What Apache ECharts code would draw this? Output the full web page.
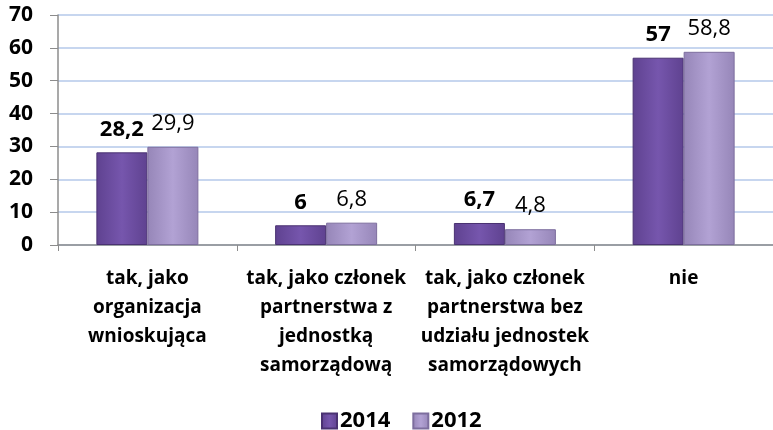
<!DOCTYPE html>
<html>
<head>
<meta charset="utf-8">
<script src="https://cdn.jsdelivr.net/npm/echarts@6/dist/echarts.min.js"></script>
<style>
  html, body { margin: 0; padding: 0; background: #fff; }
  #chart { width: 773px; height: 430px; }
</style>
</head>
<body>
<div id="chart"></div>
<script>
// dane
var categories = [
  'tak, jako\norganizacja\nwnioskująca',
  'tak, jako członek\npartnerstwa z\njednostką\nsamorządową',
  'tak, jako członek\npartnerstwa bez\nudziału jednostek\nsamorządowych',
  'nie'
];
var values2014 = [28.2, 6, 6.7, 57];
var values2012 = [29.9, 6.8, 4.8, 58.8];

var FONT = '"Open Sans", "Noto Sans", sans-serif';

function fmt(p) {
  return String(p.value).replace('.', ',');
}

function grad(c1, c2) {
  return new echarts.graphic.LinearGradient(0, 0, 1, 0, [
    { offset: 0, color: c1 },
    { offset: 0.5, color: c2 },
    { offset: 1, color: c1 }
  ]);
}

var chart = echarts.init(document.getElementById('chart'));
chart.setOption({
  animation: false,
  textStyle: { fontFamily: FONT },
  grid: { left: 58, top: 15, width: 718, bottom: 185 },
  legend: {
    top: 405,
    left: 316,
    itemWidth: 15,
    itemHeight: 15,
    itemGap: 22,
    icon: 'rect',
    textStyle: { fontFamily: FONT, fontWeight: 'bold', fontSize: 22, color: '#000', padding: [0, 0, 0, -2] },
    data: ['2014', '2012']
  },
  xAxis: {
    type: 'category',
    data: categories,
    axisLine: { lineStyle: { color: '#8c8c8c', width: 1.5 } },
    axisTick: { show: true, length: 6, lineStyle: { color: '#8c8c8c' } },
    axisLabel: {
      fontFamily: FONT, fontWeight: 'bold', fontSize: 19, color: '#000',
      lineHeight: 29, margin: 19, interval: 0
    }
  },
  yAxis: {
    type: 'value',
    min: 0, max: 70, interval: 10,
    axisLine: { show: true, lineStyle: { color: '#8c8c8c', width: 1.5 } },
    axisTick: { show: true, length: 8, lineStyle: { color: '#8c8c8c' } },
    splitLine: { lineStyle: { color: '#b4c8ea', width: 1.5 } },
    axisLabel: { fontFamily: FONT, fontWeight: 'bold', fontSize: 21, color: '#000', margin: 25 }
  },
  series: [
    {
      name: '2014', type: 'bar', data: values2014,
      barWidth: 51, barGap: '0%',
      itemStyle: { color: grad('#5f4290', '#7656ad'), borderColor: '#4a3272', borderWidth: 1 },
      label: {
        show: true, position: 'top', distance: 12, formatter: fmt,
        fontFamily: FONT, fontWeight: 'bold', fontSize: 22, color: '#000'
      }
    },
    {
      name: '2012', type: 'bar', data: values2012,
      barWidth: 51,
      itemStyle: { color: grad('#9686b8', '#b2a2d4'), borderColor: '#7d6e9e', borderWidth: 1 },
      label: {
        show: true, position: 'top', distance: 12, formatter: fmt,
        fontFamily: FONT, fontSize: 22, color: '#000'
      }
    }
  ]
});
</script>
</body>
</html>
